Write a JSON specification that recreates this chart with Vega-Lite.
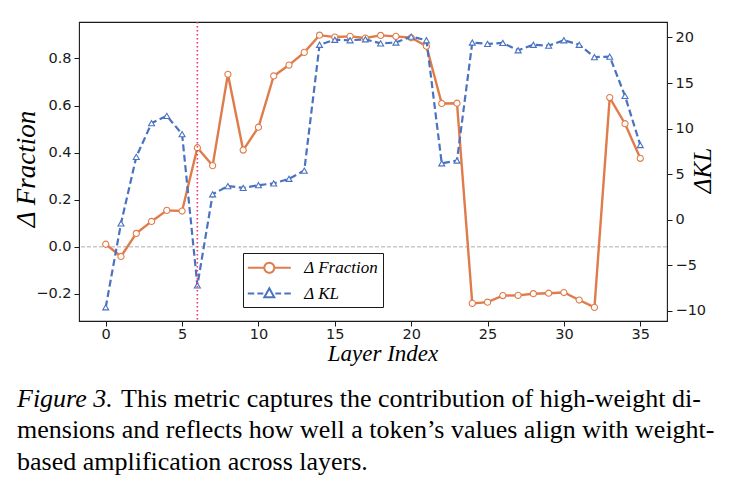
{
  "$schema": "https://vega.github.io/schema/vega-lite/v6.json",
  "width": 588,
  "height": 299,
  "autosize": {"type": "none"},
  "padding": {"left": 79, "top": 22, "right": 72, "bottom": 164},
  "background": "white",
  "datasets": {
    "layers": [
      {"layer": 0, "fraction": 0.011, "kl": -9.6},
      {"layer": 1, "fraction": -0.041, "kl": -0.4},
      {"layer": 2, "fraction": 0.057, "kl": 6.9},
      {"layer": 3, "fraction": 0.108, "kl": 10.6},
      {"layer": 4, "fraction": 0.155, "kl": 11.4},
      {"layer": 5, "fraction": 0.152, "kl": 9.4},
      {"layer": 6, "fraction": 0.421, "kl": -7.2},
      {"layer": 7, "fraction": 0.345, "kl": 2.8},
      {"layer": 8, "fraction": 0.733, "kl": 3.7},
      {"layer": 9, "fraction": 0.411, "kl": 3.5},
      {"layer": 10, "fraction": 0.508, "kl": 3.8},
      {"layer": 11, "fraction": 0.726, "kl": 4.0},
      {"layer": 12, "fraction": 0.772, "kl": 4.5},
      {"layer": 13, "fraction": 0.826, "kl": 5.4},
      {"layer": 14, "fraction": 0.899, "kl": 19.2},
      {"layer": 15, "fraction": 0.891, "kl": 19.75},
      {"layer": 16, "fraction": 0.894, "kl": 19.7},
      {"layer": 17, "fraction": 0.887, "kl": 19.8},
      {"layer": 18, "fraction": 0.898, "kl": 19.35},
      {"layer": 19, "fraction": 0.894, "kl": 19.45},
      {"layer": 20, "fraction": 0.888, "kl": 20.1},
      {"layer": 21, "fraction": 0.852, "kl": 19.7},
      {"layer": 22, "fraction": 0.609, "kl": 6.2},
      {"layer": 23, "fraction": 0.61, "kl": 6.5},
      {"layer": 24, "fraction": -0.24, "kl": 19.45},
      {"layer": 25, "fraction": -0.235, "kl": 19.3},
      {"layer": 26, "fraction": -0.207, "kl": 19.4},
      {"layer": 27, "fraction": -0.206, "kl": 18.6},
      {"layer": 28, "fraction": -0.199, "kl": 19.2},
      {"layer": 29, "fraction": -0.197, "kl": 19.1},
      {"layer": 30, "fraction": -0.194, "kl": 19.7},
      {"layer": 31, "fraction": -0.226, "kl": 19.2},
      {"layer": 32, "fraction": -0.257, "kl": 17.85},
      {"layer": 33, "fraction": 0.634, "kl": 17.9},
      {"layer": 34, "fraction": 0.523, "kl": 13.6},
      {"layer": 35, "fraction": 0.376, "kl": 8.2}
    ],
    "marker": [{"layer": 6}],
    "zero": [{"level": 0}]
  },
  "data": {"name": "layers"},
  "title": {
    "text": "Figure 3.",
    "subtitle": [
      "\u200b\u00a0\u00a0\u00a0\u00a0\u00a0\u00a0\u00a0\u00a0\u00a0\u00a0\u00a0\u00a0\u00a0\u00a0\u00a0\u00a0This metric captures the contribution of high-weight di-",
      "mensions and reflects how well a token’s values align with weight-",
      "based amplification across layers."
    ],
    "orient": "bottom",
    "anchor": "start",
    "frame": "group",
    "dx": -62,
    "offset": 20.5,
    "baseline": "top",
    "font": "Liberation Serif",
    "fontSize": 26,
    "fontStyle": "italic",
    "fontWeight": "normal",
    "color": "black",
    "subtitleFont": "Liberation Serif",
    "subtitleFontSize": 26,
    "subtitleFontStyle": "normal",
    "subtitleFontWeight": "normal",
    "subtitleColor": "black",
    "subtitleLineHeight": 31.5,
    "subtitlePadding": -26
  },
  "config": {
    "view": {"stroke": "#1a1a1a", "strokeWidth": 1.1},
    "axis": {
      "grid": false,
      "domain": false,
      "tickColor": "#1a1a1a",
      "tickSize": 5,
      "tickWidth": 1,
      "labelFont": "DejaVu Sans",
      "labelFontSize": 14.5,
      "labelColor": "#1a1a1a",
      "titleFont": "Liberation Serif",
      "titleFontStyle": "italic",
      "titleFontWeight": "normal",
      "titleColor": "black"
    }
  },
  "layer": [
    {
      "encoding": {
        "y": {
          "field": "fraction",
          "type": "quantitative",
          "scale": {"domain": [-0.315, 0.955], "nice": false, "zero": false},
          "axis": {
            "values": [-0.2, 0, 0.2, 0.4, 0.6, 0.8],
            "format": ".1f",
            "title": "Δ Fraction",
            "titleFontSize": 27,
            "titleAngle": 270,
            "titleX": -45,
            "titleY": 146.5,
            "titleAlign": "center",
            "titleBaseline": "alphabetic",
            "labelPadding": 3
          }
        }
      },
      "layer": [
        {
          "data": {"name": "zero"},
          "mark": {"type": "rule", "stroke": "#9a9a9a", "strokeWidth": 0.8, "strokeDash": [4, 2]},
          "encoding": {"y": {"field": "level", "type": "quantitative"}}
        },
        {
          "mark": {"type": "line", "strokeWidth": 2.4},
          "encoding": {
            "x": {
              "field": "layer",
              "type": "quantitative",
              "scale": {"domain": [-1.75, 36.75], "nice": false, "zero": false},
              "axis": {
                "values": [0, 5, 10, 15, 20, 25, 30, 35],
                "title": "Layer Index",
                "titleFontSize": 23,
                "titleX": 303.5,
                "titleY": 39,
                "titleAlign": "center",
                "titleBaseline": "alphabetic",
                "labelPadding": 1.5
              }
            },
            "color": {
              "datum": "Δ Fraction",
              "scale": {"domain": ["Δ Fraction", "Δ KL"], "range": ["#E07B4A", "#4A72C0"]},
              "legend": {
                "orient": "none",
                "legendX": 164,
                "legendY": 231,
                "title": null,
                "padding": 4.8,
                "strokeColor": "#1a1a1a",
                "fillColor": "white",
                "cornerRadius": 0,
                "labelFont": "Liberation Serif",
                "labelFontStyle": "italic",
                "labelFontSize": 17,
                "labelColor": "black",
                "symbolSize": 296,
                "symbolStrokeWidth": 2,
                "symbolOffset": 11.5,
                "labelOffset": 25,
                "rowPadding": 6.7,
                "encode": {
                  "symbols": {
                    "update": {
                      "shape": {"signal": "datum.value === 'Δ Fraction' ? 'M-2.5,0H-0.58M0.58,0H2.5M0.58,0A0.58,0.58,0,1,1,-0.58,0A0.58,0.58,0,1,1,0.58,0Z' : 'M-2.5,0H-1.75M-1.38,0H-0.7M0.7,0H1.38M1.75,0H2.5M-0.58,0.45L0.58,0.45L0,-0.6Z'"},
                      "fill": {"value": "white"},
                      "stroke": {"signal": "datum.value === 'Δ Fraction' ? '#E07B4A' : '#4A72C0'"},
                      "strokeDash": {"value": [1, 0]},
                      "size": {"value": 296},
                      "strokeWidth": {"value": 2},
                      "opacity": {"value": 1}
                    }
                  }
                }
              }
            }
          }
        },
        {
          "mark": {"type": "point", "shape": "circle", "filled": true, "fill": "white", "stroke": "#E07B4A", "strokeWidth": 1.1, "size": 38, "opacity": 1},
          "encoding": {
            "x": {"field": "layer", "type": "quantitative", "scale": {"domain": [-1.75, 36.75], "nice": false, "zero": false}, "axis": {"values": [0, 5, 10, 15, 20, 25, 30, 35], "title": "Layer Index"}}
          }
        }
      ]
    },
    {
      "encoding": {
        "y": {
          "field": "kl",
          "type": "quantitative",
          "scale": {"domain": [-11.1, 21.7], "nice": false, "zero": false},
          "axis": {
            "orient": "right",
            "values": [-10, -5, 0, 5, 10, 15, 20],
            "title": "ΔKL",
            "titleFontSize": 25,
            "titleAngle": 270,
            "titleX": 43,
            "titleY": 148,
            "titleAlign": "center",
            "titleBaseline": "alphabetic",
            "labelPadding": 3
          }
        }
      },
      "layer": [
        {
          "mark": {"type": "line", "strokeWidth": 2.2, "strokeDash": [7, 3.5]},
          "encoding": {
            "x": {"field": "layer", "type": "quantitative", "scale": {"domain": [-1.75, 36.75], "nice": false, "zero": false}, "axis": {"values": [0, 5, 10, 15, 20, 25, 30, 35], "title": "Layer Index"}},
            "color": {"datum": "Δ KL"}
          }
        },
        {
          "mark": {"type": "point", "shape": "triangle-up", "filled": true, "fill": "white", "stroke": "#4A72C0", "strokeWidth": 1.1, "size": 36, "opacity": 1},
          "encoding": {
            "x": {"field": "layer", "type": "quantitative", "scale": {"domain": [-1.75, 36.75], "nice": false, "zero": false}, "axis": {"values": [0, 5, 10, 15, 20, 25, 30, 35], "title": "Layer Index"}}
          }
        }
      ]
    },
    {
      "data": {"name": "marker"},
      "mark": {"type": "rule", "stroke": "#E3366C", "strokeWidth": 1.6, "strokeDash": [1.5, 2.5]},
      "encoding": {
        "x": {"field": "layer", "type": "quantitative", "scale": {"domain": [-1.75, 36.75], "nice": false, "zero": false}, "axis": {"values": [0, 5, 10, 15, 20, 25, 30, 35], "title": "Layer Index"}}
      }
    }
  ],
  "resolve": {"scale": {"y": "independent"}}
}
